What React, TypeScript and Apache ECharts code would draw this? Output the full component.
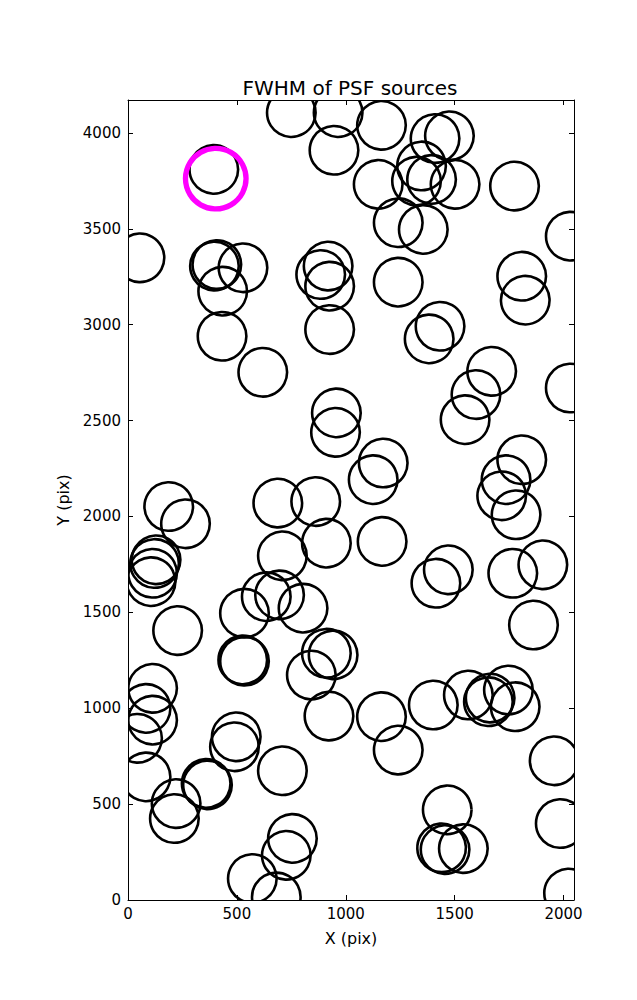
import React, { useEffect, useRef } from "react";
import * as echarts from "echarts";

const srcX = [
  750, 965, 946, 1164, 1410, 1476, 1348, 1325, 1394, 1502,
  1149, 1241, 1356, 1775, 2031, 394, 55, 408, 397, 528,
  435, 432, 919, 885, 926, 926, 1241, 1808, 1824, 1433,
  1383, 619, 957, 953, 1670, 1598, 1548, 2031, 1172, 1126,
  1808, 1736, 1716, 1782, 187, 264, 129, 122, 113, 106,
  688, 862, 709, 911, 1167, 1471, 1414, 1767, 1905, 635,
  696, 535, 804, 228, 527, 911, 942, 842, 923, 1862,
  113, 83, 113, 44, 83, 497, 489, 359, 221, 213,
  709, 755, 727, 571, 681, 1164, 1241, 1402, 1563, 1655,
  1663, 1747, 1778, 1957, 1985, 2023, 1466, 1440, 1456, 1540,
  535, 365,
];
const srcY = [
  4106, 4106, 3910, 4040, 3971, 3985, 3828, 3749, 3758, 3732,
  3732, 3532, 3497, 3723, 3462, 3810, 3349, 3314, 3306, 3297,
  3175, 2940, 3306, 3262, 3201, 2975, 3222, 3253, 3135, 2992,
  2926, 2752, 2540, 2439, 2757, 2636, 2505, 2670, 2279, 2192,
  2296, 2192, 2108, 2009, 2052, 1962, 1774, 1755, 1704, 1660,
  2070, 2078, 1795, 1861, 1870, 1722, 1652, 1704, 1748, 1582,
  1591, 1496, 1522, 1405, 1252, 1287, 1278, 1173, 959, 1434,
  1104, 999, 938, 843, 642, 851, 799, 608, 503, 425,
  674, 321, 233, 112, 16, 956, 782, 1017, 1069, 1034,
  1053, 1095, 1008, 726, 399, 36, 470, 277, 263, 268,
  1245, 600,
];
const highlightX = [403];
const highlightY = [3762];

const xTicks = [0, 500, 1000, 1500, 2000];
const yTicks = [0, 500, 1000, 1500, 2000, 2500, 3000, 3500, 4000];
const X_MAX = 2048;
const Y_MAX = 4172;

const FONT = "DejaVu Sans";

export default function App() {
  const ref = useRef<HTMLDivElement>(null);
  useEffect(() => {
    if (!ref.current) return;
    const chart = echarts.init(ref.current, null, { renderer: "svg" });
    const black = srcX.map((x, i) => [x, srcY[i]]);
    const mag = highlightX.map((x, i) => [x, highlightY[i]]);
    const tickFmt = (arr: number[]) => (v: number) => (arr.indexOf(v) >= 0 ? String(v) : "");
    const tickInterval = (arr: number[]) => (_i: number, v: any) => arr.indexOf(Number(v)) >= 0;
    const baseAxis = {
      axisLine: { show: true, onZero: false, lineStyle: { color: "#000", width: 1 } },
      splitLine: { show: false },
      z: 10,
    };
    const tickStyle = (arr: number[]) => ({
      show: true,
      inside: true,
      length: 5,
      interval: tickInterval(arr),
      lineStyle: { color: "#000", width: 1 },
    });
    const circleRender = (r: number, color: string, lw: number) => (params: any, api: any) => {
      const p = api.coord([api.value(0), api.value(1)]);
      return {
        type: "circle",
        shape: { cx: p[0], cy: p[1], r },
        style: { fill: "none", stroke: color, lineWidth: lw },
      };
    };
    chart.setOption({
      animation: false,
      backgroundColor: "#fff",
      title: {
        text: "FWHM of PSF sources",
        left: 345,
        top: 73,
        textAlign: "center",
        textStyle: { fontFamily: FONT, fontSize: 20, fontWeight: "normal", color: "#000" },
      },
      grid: { left: 128, top: 100, right: 63, bottom: 100, containLabel: false },
      xAxis: [
        {
          ...baseAxis,
          type: "value",
          position: "bottom",
          min: 0,
          max: X_MAX,
          interval: 500,
          axisTick: tickStyle(xTicks),
          name: "X (pix)",
          nameLocation: "middle",
          nameGap: 30,
          nameTextStyle: { fontFamily: FONT, fontSize: 16, color: "#000" },
          axisLabel: {
            show: true,
            margin: 6,
            fontFamily: FONT,
            fontSize: 15,
            color: "#000",
            formatter: tickFmt(xTicks),
          },
        },
        {
          ...baseAxis,
          type: "value",
          position: "top",
          min: 0,
          max: X_MAX,
          interval: 500,
          axisTick: tickStyle(xTicks),
          axisLabel: { show: false },
        },
      ],
      yAxis: [
        {
          ...baseAxis,
          type: "value",
          position: "left",
          min: 0,
          max: Y_MAX,
          interval: 500,
          axisTick: tickStyle(yTicks),
          name: "Y (pix)",
          nameLocation: "middle",
          nameGap: 56,
          nameTextStyle: { fontFamily: FONT, fontSize: 16, color: "#000" },
          axisLabel: {
            show: true,
            margin: 7,
            fontFamily: FONT,
            fontSize: 15,
            color: "#000",
            formatter: tickFmt(yTicks),
          },
        },
        {
          ...baseAxis,
          type: "value",
          position: "right",
          min: 0,
          max: Y_MAX,
          interval: 500,
          axisTick: tickStyle(yTicks),
          axisLabel: { show: false },
        },
      ],
      series: [
        {
          type: "custom",
          name: "sources",
          xAxisIndex: 0,
          yAxisIndex: 0,
          clip: true,
          data: black,
          encode: { x: 0, y: 1 },
          renderItem: circleRender(24.3, "#000", 2.6),
          z: 2,
        },
        {
          type: "custom",
          name: "highlight",
          xAxisIndex: 0,
          yAxisIndex: 0,
          clip: true,
          data: mag,
          encode: { x: 0, y: 1 },
          renderItem: circleRender(30.3, "#ff00ff", 5.3),
          z: 3,
        },
      ],
    });
    return () => chart.dispose();
  }, []);
  return (
    <div
      ref={ref}
      style={{ position: "absolute", left: 0, top: 0, width: 637, height: 1000 }}
    />
  );
}
